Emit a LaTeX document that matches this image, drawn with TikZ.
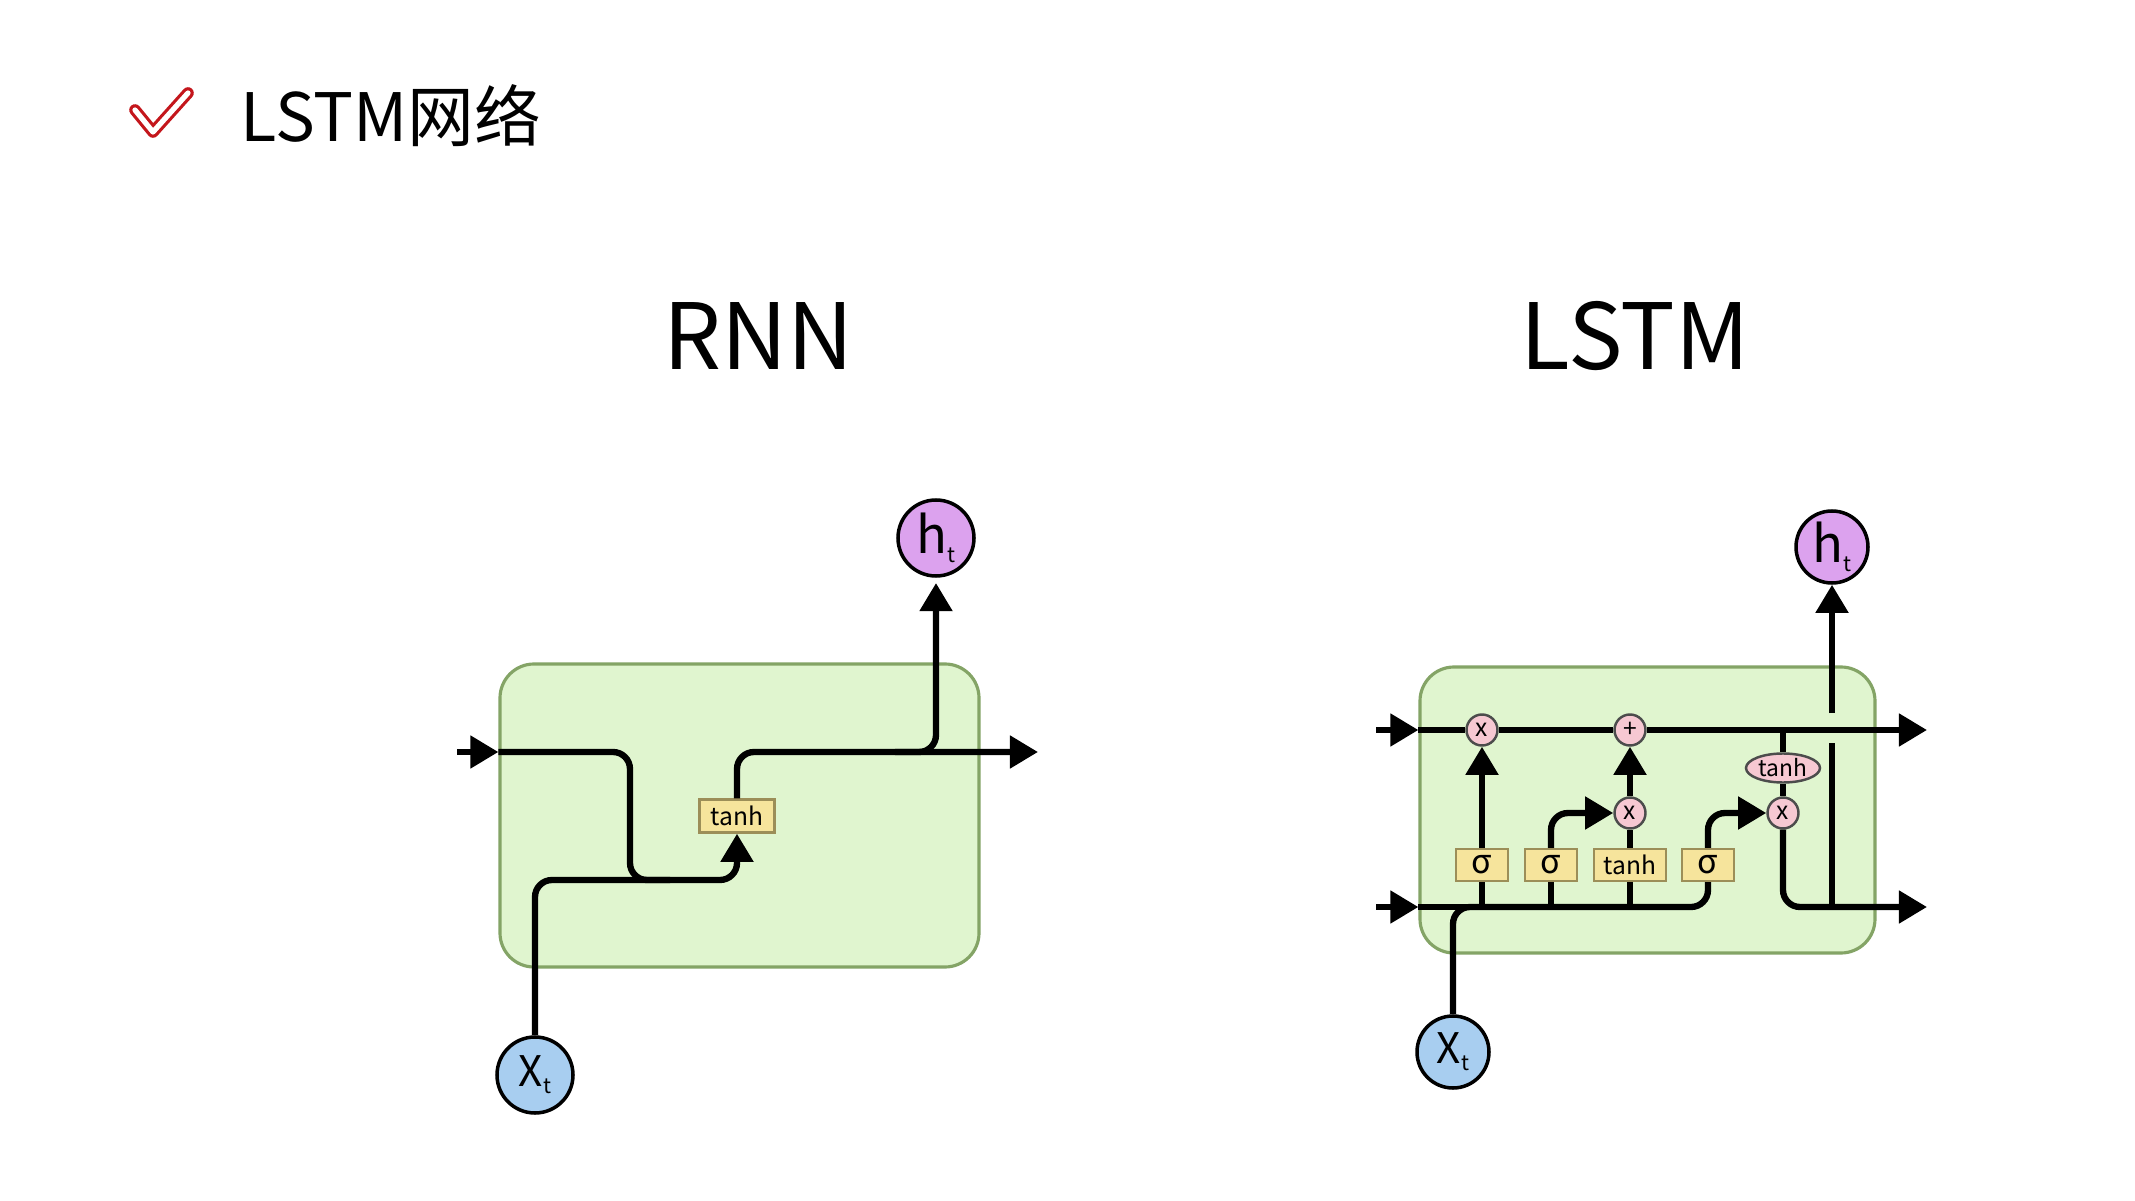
\documentclass[tikz,border=0pt]{standalone}
\usepackage{fontspec}
\setmainfont{Noto Sans CJK SC}
\usetikzlibrary{arrows.meta,shapes.geometric}

\definecolor{cellgreen}{HTML}{E0F5CF}
\definecolor{celledge}{HTML}{84A466}
\definecolor{gateyellow}{HTML}{F6E49C}
\definecolor{gateedge}{HTML}{9C8E58}
\definecolor{oppink}{HTML}{F6C8D2}
\definecolor{inblue}{HTML}{A8CEF0}
\definecolor{outpurple}{HTML}{DCA2EE}
\definecolor{checkred}{HTML}{C4161C}

\newcommand{\tsub}[1]{\raisebox{-0.3ex}{\fontsize{6}{6}\selectfont #1}}

\tikzset{
    cellbox/.style={draw=celledge, fill=cellgreen, line width=0.9pt, rounded corners=0.34cm},
    gatebox/.style={draw=gateedge, fill=gateyellow, line width=0.7pt, minimum height=0.32cm, inner sep=0pt},
    opnode/.style={circle, draw=black!70, fill=oppink, line width=0.7pt, minimum size=0.31cm, inner sep=0pt, font=\fontsize{7}{7}\selectfont},
    xnode/.style={circle, draw=black, fill=inblue, line width=1pt, minimum size=0.76cm, inner sep=0pt, font=\fontsize{12}{12}\selectfont},
    hnode/.style={circle, draw=black, fill=outpurple, line width=1pt, minimum size=0.76cm, inner sep=0pt, font=\fontsize{14.5}{14.5}\selectfont},
    flow/.style={line width=1.8pt, >={Triangle[length=8pt,width=9pt]}},
    bigtitle/.style={font=\fontsize{26}{26}\selectfont, anchor=base}
}

\begin{document}
\begin{tikzpicture}[y=-1cm]

    % Page area, same proportions as the slide
    \fill[white] (0,0) rectangle (21.35,12.01);
    \useasboundingbox (0,0) rectangle (21.35,12.01);

    % Heading with the red check mark
    \draw[checkred, line width=3.3pt, line cap=round, line join=round] (1.35,1.10) -- (1.53,1.32) -- (1.88,0.93);
    \draw[white, line width=1.5pt, line cap=round, line join=round] (1.35,1.10) -- (1.53,1.32) -- (1.88,0.93);
    \node[font=\fontsize{19}{19}\selectfont, anchor=base west, inner sep=0pt] (heading) at (2.40,1.42) {LSTM网络};

    % Titles of the two cells
    \node[bigtitle] (rnntitle) at (7.585,3.69) {RNN};
    \node[bigtitle] (lstmtitle) at (16.35,3.69) {LSTM};

    % ---------------- RNN cell ----------------
    \node[cellbox, minimum width=4.79cm, minimum height=3.03cm] (rnn) at (7.395,8.155) {};
    \node[gatebox, minimum width=0.75cm, minimum height=0.33cm, font=\fontsize{7}{7}\selectfont] (rnntanh) at (7.37,8.16) {tanh};
    \node[xnode] (rnnx) at (5.35,10.75) {X\tsub{t}};
    \node[hnode] (rnnh) at (9.36,5.38) {h\tsub{t}};

    \coordinate (rnnin) at (4.57,7.52);
    \coordinate (rnnout) at (10.38,7.52);
    \coordinate (rnnjoin) at (6.30,8.80);
    \coordinate (rnntap) at (8.95,7.52);

    % Previous state comes in and drops to the tanh input
    \draw[flow,->] (rnnin) -- (rnn.west |- rnnin);
    \draw[flow, rounded corners=0.17cm] (rnn.west |- rnnin) -| (rnnjoin) -- ++(0.4,0);

    % Input joins and feeds the tanh
    \draw[flow,->, rounded corners=0.17cm] (rnnx.north) |- (rnntanh |- rnnjoin) -- (rnntanh.south);

    % Output of tanh to the next step and to h_t
    \draw[flow,->, rounded corners=0.17cm] (rnntanh.north) |- (rnnout);
    \draw[flow,->, rounded corners=0.17cm, shorten >=1.5pt] (rnntap) -| (rnnh.south);

    % ---------------- LSTM cell ----------------
    \node[cellbox, minimum width=4.55cm, minimum height=2.86cm] (lstm) at (16.475,8.10) {};

    \coordinate (cin) at (13.76,7.30);
    \coordinate (hin) at (13.76,9.07);
    \coordinate (cout) at (19.27,7.30);
    \coordinate (hout) at (19.27,9.07);

    % Pointwise operations
    \node[opnode] (fx) at (14.82,7.30) {x};
    \node[opnode] (px) at (16.30,7.30) {+};
    \node[opnode] (ix) at (16.30,8.13) {x};
    \node[opnode] (ox) at (17.83,8.13) {x};
    \node[ellipse, draw=black!70, fill=oppink, line width=0.7pt, minimum width=0.74cm, minimum height=0.29cm, inner sep=0pt, font=\fontsize{6.5}{6.5}\selectfont] (ct) at (17.83,7.68) {tanh};

    % Gate layers
    \node[gatebox, minimum width=0.52cm, font=\fontsize{9.5}{9.5}\selectfont] (s1) at (14.82,8.65) {σ};
    \node[gatebox, minimum width=0.52cm, font=\fontsize{9.5}{9.5}\selectfont] (s2) at (15.51,8.65) {σ};
    \node[gatebox, minimum width=0.72cm, font=\fontsize{7}{7}\selectfont] (gt) at (16.30,8.65) {tanh};
    \node[gatebox, minimum width=0.52cm, font=\fontsize{9.5}{9.5}\selectfont] (s3) at (17.08,8.65) {σ};

    \node[xnode, minimum size=0.72cm] (lx) at (14.53,10.52) {X\tsub{t}};
    \node[hnode, minimum size=0.72cm] (lh) at (18.32,5.47) {h\tsub{t}};

    % Cell state line along the top
    \draw[flow,->] (cin) -- (lstm.west |- cin);
    \draw[flow] (lstm.west |- cin) -- (fx);
    \draw[flow] (fx) -- (px);
    \draw[flow,->] (px) -- (cout);

    % Hidden state line along the bottom
    \draw[flow,->] (hin) -- (lstm.west |- hin);
    \draw[flow] (lstm.west |- hin) -- (s2 |- hin);
    \draw[flow, rounded corners=0.17cm] (lx.north) |- (s3 |- hin) -- (s3.south);
    \foreach \g in {s1,s2,gt}
        \draw[flow] (\g |- hin) -- (\g.south);

    % Gates into the pointwise operations
    \draw[flow,->] (s1) -- (fx);
    \draw[flow,->, rounded corners=0.17cm] (s2.north) |- (ix.west);
    \draw[flow] (gt) -- (ix);
    \draw[flow,->] (ix) -- (px);
    \draw[flow,->, rounded corners=0.17cm] (s3.north) |- (ox.west);

    % Output path through tanh
    \draw[flow] (ct |- cin) -- (ct);
    \draw[flow] (ct) -- (ox);
    \draw[flow,->, rounded corners=0.17cm] (ox.south) |- (hout);

    % h_t goes up, passing under the cell state line
    \coordinate (hgapb) at (18.32,7.43);
    \coordinate (hgapt) at (18.32,7.13);
    \draw[flow] (lh |- hin) -- (hgapb);
    \draw[flow,->] (hgapt) -- (lh);

\end{tikzpicture}
\end{document}
